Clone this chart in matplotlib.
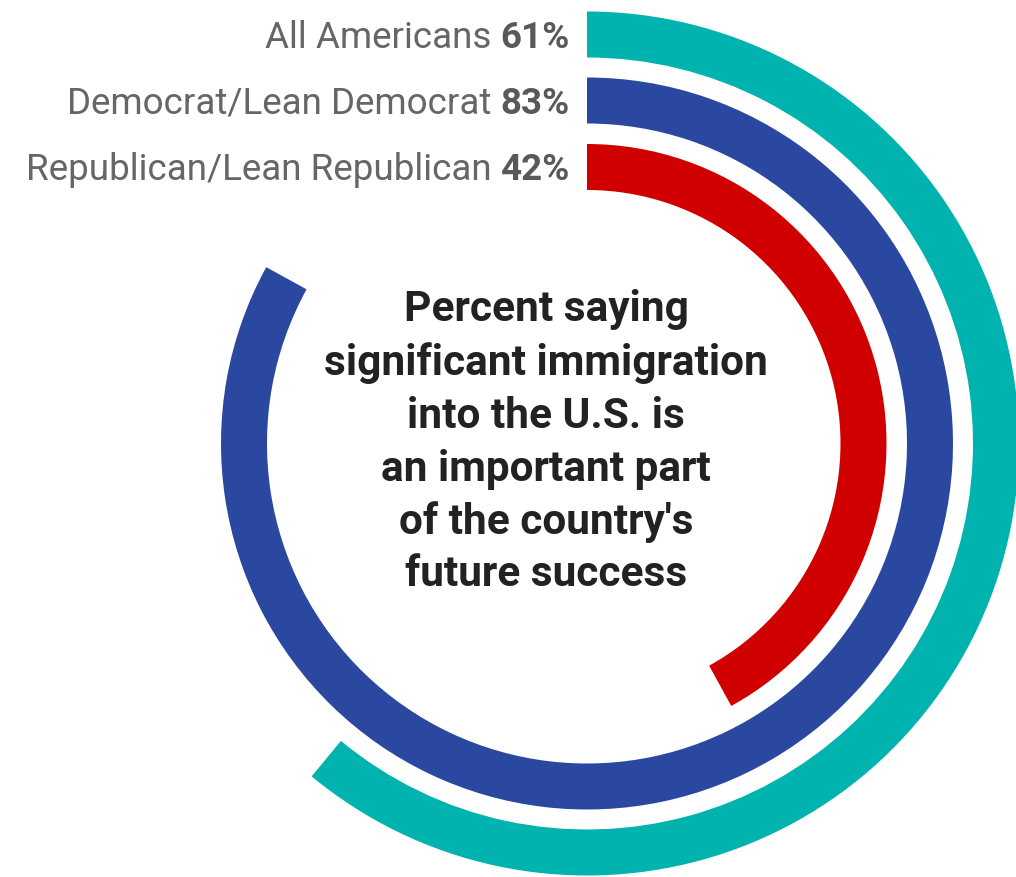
import matplotlib
matplotlib.use('Agg')
import matplotlib.pyplot as plt
from matplotlib.patches import Wedge

# Data
groups = ['All Americans', 'Democrat/Lean Democrat', 'Republican/Lean Republican']
values = [61, 83, 42]
colors = ['#00B3AE', '#2A48A0', '#D10000']
title_lines = ['Percent saying', 'significant immigration', 'into the U.S. is',
               'an important part', "of the country's", 'future success']

W, H = 1016, 877
fig = plt.figure(figsize=(W / 100, H / 100), dpi=100)
ax = fig.add_axes([0, 0, 1, 1])
ax.set_xlim(0, W)
ax.set_ylim(H, 0)
ax.set_aspect('equal')
ax.axis('off')

cx, cy = 587, 443.5
ring_w = 46
outer = [432, 366, 299.5]

# rings: clockwise from top. y axis is inverted, so angles run clockwise on screen
for v, r, c in zip(values, outer, colors):
    ax.add_patch(Wedge((cx, cy), r, -90, -90 + 360 * v / 100, width=ring_w,
                       facecolor=c, edgecolor='none'))

# labels, regular name + bold percent, right aligned next to the ring starts
fig.canvas.draw()
renderer = fig.canvas.get_renderer()
x_right = 570
for g, v, r in zip(groups, values, outer):
    y = cy - r + ring_w / 2 + 3
    t = ax.text(x_right, y, f'{v}%', ha='right', va='center', fontsize=26.5,
                family='Roboto', weight='bold', color='#595959')
    bb = t.get_window_extent(renderer)
    x_pct = ax.transData.inverted().transform((bb.x0, 0))[0]
    ax.text(x_pct - 9, y, g, ha='right', va='center', fontsize=26.5,
            family='Roboto', color='#666666')

# centre title
y0 = 310
for i, line in enumerate(title_lines):
    ax.text(546, y0 + i * 53, line, ha='center', va='center', fontsize=30.5,
            family='Roboto', weight='bold', color='#222222')

fig.savefig('out.png', dpi=100)
